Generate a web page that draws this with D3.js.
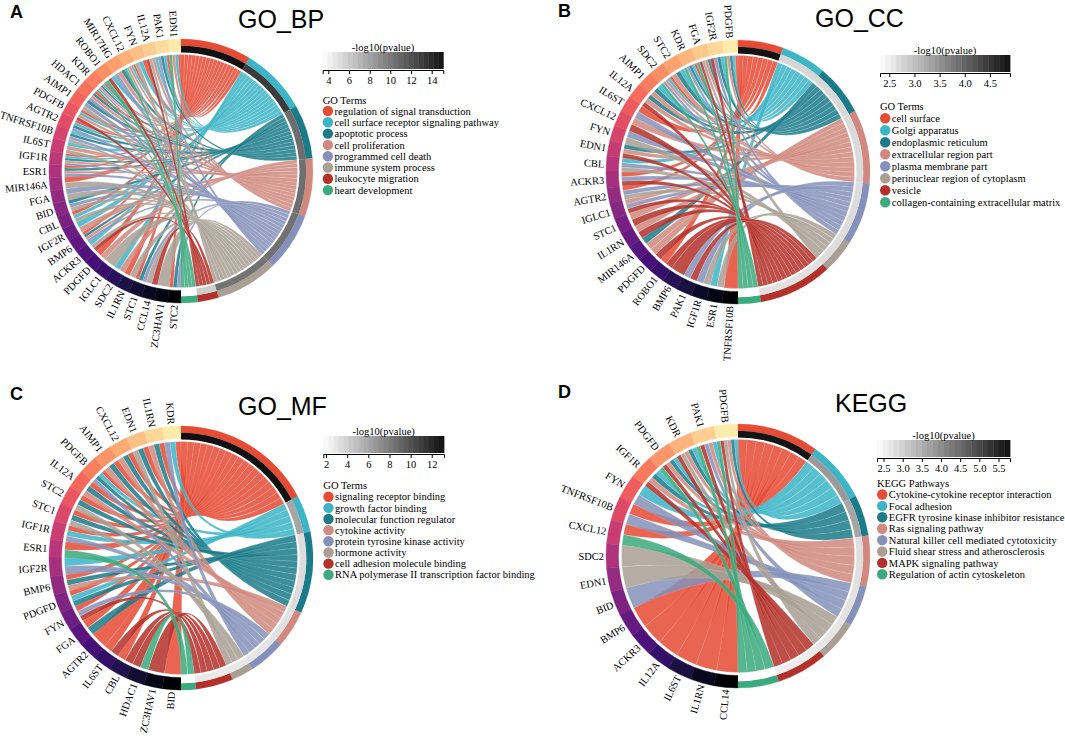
<!DOCTYPE html>
<html>
<head>
<meta charset="utf-8">
<script src="https://cdn.jsdelivr.net/npm/d3@7"></script>
<style>
  body { margin: 0; background: #fff; }
  svg { font-family: "Liberation Serif", "Times New Roman", serif; }
  .title { font-family: "Liberation Sans", Arial, sans-serif; font-size: 25px; }
  .letter { font-family: "Liberation Sans", Arial, sans-serif; font-size: 18px; font-weight: bold; }
  .gene { font-size: 10.4px; }
  .leg { font-size: 10.5px; }
  .axis text { font-family: "Liberation Serif", serif; font-size: 10.5px; }
</style>
</head>
<body>
<svg width="1065" height="736"></svg>
<script>
// colours of the 8 terms (same order in every panel)
const termColors = ["#E64B35", "#3CB5C7", "#1B7B89", "#D1897F", "#8591BA", "#A99F94", "#B3312A", "#3BAA7E"];

// ---- A: GO_BP ----
const bpTerms = ["regulation of signal transduction", "cell surface receptor signaling pathway", "apoptotic process",
  "cell proliferation", "programmed cell death", "immune system process", "leukocyte migration", "heart development"];
const bpPval = [15.1, 13.0, 10.6, 10.5, 10.4, 10.3, 5.9, 3.5];
const bpGenes = ["EDN1", "PAK1", "IL12A", "FYN", "CXCL12", "MIR17HG", "ROBO1", "KDR", "HDAC1", "AIMP1", "PDGFB",
  "AGTR2", "TNFRSF10B", "IL6ST", "IGF1R", "ESR1", "MIR146A", "FGA", "BID", "CBL", "IGF2R", "BMP6", "ACKR3",
  "PDGFD", "IGLC1", "SDC2", "IL1RN", "STC1", "CCL14", "ZC3HAV1", "STC2"];
const bpLinks = [[0,1,3,7], [0,1,2,4], [1,3,5,6], [0,1,5], [0,1,3,5,7], [2,3,4], [1,6,7], [0,1,2,3,4,7], [0,2,3,4],
  [2,4,5], [0,1,3,6], [0,1,2,4], [1,2,4,5], [1,3,5], [0,1,2,3,4], [0,2,3,4], [0,5], [4,5], [2,4,5], [0,1,5],
  [1,3], [0,2,3,4], [1,5,6], [0,3], [5], [1,3], [0,5], [0,2,4], [5,6], [5], [0,2,4]];
const bpTicks = [4, 6, 8, 10, 12, 14];

// ---- B: GO_CC ----
const ccTerms = ["cell surface", "Golgi apparatus", "endoplasmic reticulum", "extracellular region part",
  "plasma membrane part", "perinuclear region of cytoplasm", "vesicle", "collagen-containing extracellular matrix"];
const ccPval = [4.88, 2.76, 2.74, 2.72, 2.7, 2.68, 2.64, 2.32];
const ccGenes = ["PDGFB", "IGF2R", "FGA", "KDR", "STC2", "SDC2", "AIMP1", "IL12A", "IL6ST", "CXCL12", "FYN", "EDN1",
  "CBL", "ACKR3", "AGTR2", "IGLC1", "STC1", "IL1RN", "MIR146A", "PDGFD", "ROBO1", "BMP6", "PAK1", "IGF1R", "ESR1",
  "TNFRSF10B"];
const ccLinks = [[0,1,2,3,7], [1,2,4,6], [2,3,5,6,7], [0,1,2,4,7], [1,2,3], [0,1,3,4,7], [1,2,3], [2,3,6], [0,4],
  [3,6], [4,5], [2,3,6], [1,4,5], [0,4,6], [0,4,5], [3,4,6], [3,6], [3,6], [2,3], [3,6], [0,6], [6], [4,6],
  [4,5], [1,5], [0]];
const ccTicks = [2.5, 3.0, 3.5, 4.0, 4.5];

// ---- C: GO_MF ----
const mfTerms = ["signaling receptor binding", "growth factor binding", "molecular function regulator",
  "cytokine activity", "protein tyrosine kinase activity", "hormone activity", "cell adhesion molecule binding",
  "RNA polymerase II transcription factor binding"];
const mfPval = [13.16, 6.0, 3.4, 3.2, 3.0, 2.9, 2.8, 1.75];
const mfGenes = ["KDR", "IL1RN", "EDN1", "CXCL12", "AIMP1", "PDGFB", "IL12A", "STC2", "STC1", "IGF1R", "ESR1",
  "IGF2R", "BMP6", "PDGFD", "FYN", "FGA", "AGTR2", "IL6ST", "CBL", "HDAC1", "ZC3HAV1", "BID"];
const mfLinks = [[0,1,4], [0,2,3], [0,2,5], [0,2,3], [0,2,3], [0,1,2,4], [0,2,3], [0,2,5], [0,2,5], [0,1,4],
  [0,7], [1,4], [0,2,3], [0,1,2], [0,4,6], [0,2], [0], [0,6], [0,6], [6,7], [6], [0]];
const mfTicks = [2, 4, 6, 8, 10, 12];

// ---- D: KEGG ----
const keggTerms = ["Cytokine-cytokine receptor interaction", "Focal adhesion", "EGFR tyrosine kinase inhibitor resistance",
  "Ras signaling pathway", "Natural killer cell mediated cytotoxicity", "Fluid shear stress and atherosclerosis",
  "MAPK signaling pathway", "Regulation of actin cytoskeleton"];
const keggPval = [5.75, 3.8, 3.63, 2.8, 2.75, 2.7, 2.6, 2.33];
const keggGenes = ["PDGFB", "PAK1", "KDR", "PDGFD", "IGF1R", "FYN", "TNFRSF10B", "CXCL12", "SDC2", "EDN1", "BID",
  "BMP6", "ACKR3", "IL12A", "IL6ST", "IL1RN", "CCL14"];
const keggLinks = [[1,2,3,5,6,7], [1,3,4,6,7], [1,2,3,5,6], [1,2,3,6,7], [1,2,3,6], [1,4], [0,4], [0,7], [5], [5],
  [4], [0], [0], [0], [0], [0], [0]];
const keggTicks = [2.5, 3.0, 3.5, 4.0, 4.5, 5.0, 5.5];

const panels = [
  { letter: "A", title: "GO_BP", genes: bpGenes, links: bpLinks, terms: bpTerms, pval: bpPval, pRange: [3.46, 15.12],
    ticks: bpTicks, fmt: "d", head: "GO Terms", cx: 181, cy: 171, tx: 238, ty: 28, lx: 10, ly: 18,
    barX: 322.7, barY: 52, barW: 120.6, headY: 100, itemY: 111, step: 11.3 },
  { letter: "B", title: "GO_CC", genes: ccGenes, links: ccLinks, terms: ccTerms, pval: ccPval, pRange: [2.315, 4.9],
    ticks: ccTicks, fmt: ".1f", head: "GO Terms", cx: 738, cy: 172, tx: 815, ty: 27, lx: 558, ly: 17,
    barX: 880, barY: 55, barW: 130, headY: 106.7, itemY: 118.3, step: 12 },
  { letter: "C", title: "GO_MF", genes: mfGenes, links: mfLinks, terms: mfTerms, pval: mfPval, pRange: [1.74, 13.16],
    ticks: mfTicks, fmt: "d", head: "GO Terms", cx: 181, cy: 558, tx: 238, ty: 415, lx: 10, ly: 400,
    barX: 323.3, barY: 436, barW: 120.7, headY: 485, itemY: 496.7, step: 11.15 },
  { letter: "D", title: "KEGG", genes: keggGenes, links: keggLinks, terms: keggTerms, pval: keggPval, pRange: [2.33, 5.8],
    ticks: keggTicks, fmt: ".1f", head: "KEGG Pathways", cx: 738, cy: 556, tx: 835, ty: 412, lx: 558, ly: 398,
    barX: 877, barY: 440, barW: 133, headY: 483, itemY: 494.5, step: 11.4 }
];

const svg = d3.select("svg");
const tau = Math.PI * 2;

// radii
const rRib = 116.5, rGeneIn = 119.5, rOut = 132, rTermIn = 125.2, rPvIn = 118.5, rLabel = 134;

function drawPanel(p) {
  svg.append("text").attr("class", "letter").attr("x", p.lx).attr("y", p.ly).text(p.letter);
  svg.append("text").attr("class", "title").attr("x", p.tx).attr("y", p.ty).text(p.title);

  const g = svg.append("g").attr("transform", `translate(${p.cx},${p.cy})`);
  const nG = p.genes.length;

  // term sizes = number of genes linked to each term
  const members = p.terms.map((t, j) => p.links.map((l, gi) => l.includes(j) ? gi : -1).filter(x => x >= 0));
  const cum = [0];
  members.forEach(m => cum.push(cum[cum.length - 1] + m.length));
  const total = cum[cum.length - 1];

  const gA = d3.scaleLinear().domain([0, nG]).range([tau, Math.PI]);
  const tA = d3.scaleLinear().domain([0, total]).range([0, Math.PI]);
  const pColor = d3.scaleLinear().domain(p.pRange).range(["#ffffff", "#111111"]).clamp(true);
  const gT = d3.scaleLinear().domain([0, nG - 1]).range([0.96, 0.0]);

  // ribbons
  const ribbons = [];
  p.links.forEach((ts, i) => {
    ts.forEach((j, k) => {
      const order = members[j].slice().sort((a, b) => b - a);
      const pos = order.indexOf(i);
      ribbons.push({
        term: j,
        source: { startAngle: gA(i + (k + 1) / ts.length), endAngle: gA(i + k / ts.length) },
        target: { startAngle: tA(cum[j] + pos), endAngle: tA(cum[j] + pos + 1) }
      });
    });
  });
  ribbons.sort((a, b) => a.term - b.term);

  const ribbon = d3.ribbon().radius(rRib);
  g.selectAll("path.rib")
    .data(ribbons)
    .join("path")
    .attr("class", "rib")
    .attr("d", ribbon)
    .attr("fill", d => termColors[d.term])
    .attr("fill-opacity", 0.86)
    .attr("stroke", "#ffffff")
    .attr("stroke-width", 0.25)
    .attr("stroke-opacity", 0.5);

  // gene ring
  const arc = d3.arc();
  g.selectAll("path.gseg")
    .data(p.genes)
    .join("path")
    .attr("class", "gseg")
    .attr("d", (d, i) => arc({ innerRadius: rGeneIn, outerRadius: rOut, startAngle: gA(i + 1), endAngle: gA(i) }))
    .attr("fill", (d, i) => d3.interpolateMagma(gT(i)))
    .attr("stroke", (d, i) => d3.interpolateMagma(gT(i)))
    .attr("stroke-width", 0.4);

  // term ring + p-value ring
  g.selectAll("path.term")
    .data(p.terms)
    .join("path")
    .attr("class", "term")
    .attr("d", (d, j) => arc({ innerRadius: rTermIn, outerRadius: rOut, startAngle: tA(cum[j]), endAngle: tA(cum[j + 1]) }))
    .attr("fill", (d, j) => termColors[j])
    .attr("stroke", (d, j) => termColors[j])
    .attr("stroke-width", 0.3);

  g.selectAll("path.pv")
    .data(p.pval)
    .join("path")
    .attr("class", "pv")
    .attr("d", (d, j) => arc({ innerRadius: rPvIn, outerRadius: rTermIn, startAngle: tA(cum[j]), endAngle: tA(cum[j + 1]) }))
    .attr("fill", d => pColor(d));

  // gene labels
  g.selectAll("text.gene")
    .data(p.genes)
    .join("text")
    .attr("class", "gene")
    .attr("transform", (d, i) => {
      const deg = gA(i + 0.5) * 180 / Math.PI;
      return `rotate(${deg - 90}) translate(${rLabel},0) rotate(180)`;
    })
    .attr("text-anchor", "end")
    .attr("dy", "0.35em")
    .text(d => d);

  // p-value legend
  const lx = d3.scaleLinear().domain(p.pRange).range([p.barX, p.barX + p.barW]);
  const steps = d3.range(24);
  const stepW = p.barW / steps.length;
  svg.append("g").selectAll("rect")
    .data(steps)
    .join("rect")
    .attr("x", d => p.barX + d * stepW)
    .attr("y", p.barY)
    .attr("width", stepW + 0.4)
    .attr("height", 17)
    .attr("fill", d => pColor(lx.invert(p.barX + (d + 0.5) * stepW)));

  svg.append("text").attr("class", "leg")
    .attr("x", p.barX + p.barW / 2).attr("y", p.barY - 1.5)
    .attr("text-anchor", "middle").text("-log10(pvalue)");

  svg.append("g")
    .attr("class", "axis")
    .attr("transform", `translate(0,${p.barY + 18})`)
    .call(d3.axisBottom(lx).tickValues(p.ticks).tickFormat(d3.format(p.fmt)).tickSize(4).tickPadding(3))
    .call(a => a.select(".domain").attr("stroke", "#000"));

  // term legend
  svg.append("text").attr("class", "leg")
    .attr("x", p.barX).attr("y", p.headY).attr("dy", "0.35em").text(p.head);

  const items = svg.append("g").selectAll("g")
    .data(p.terms)
    .join("g")
    .attr("transform", (d, j) => `translate(${p.barX},${p.itemY + j * p.step})`);
  items.append("circle").attr("cx", 5.2).attr("r", 5.2).attr("fill", (d, j) => termColors[j]);
  items.append("text").attr("class", "leg").attr("x", 11.8).attr("dy", "0.35em").text(d => d);
}

panels.forEach(drawPanel);
</script>
</body>
</html>
